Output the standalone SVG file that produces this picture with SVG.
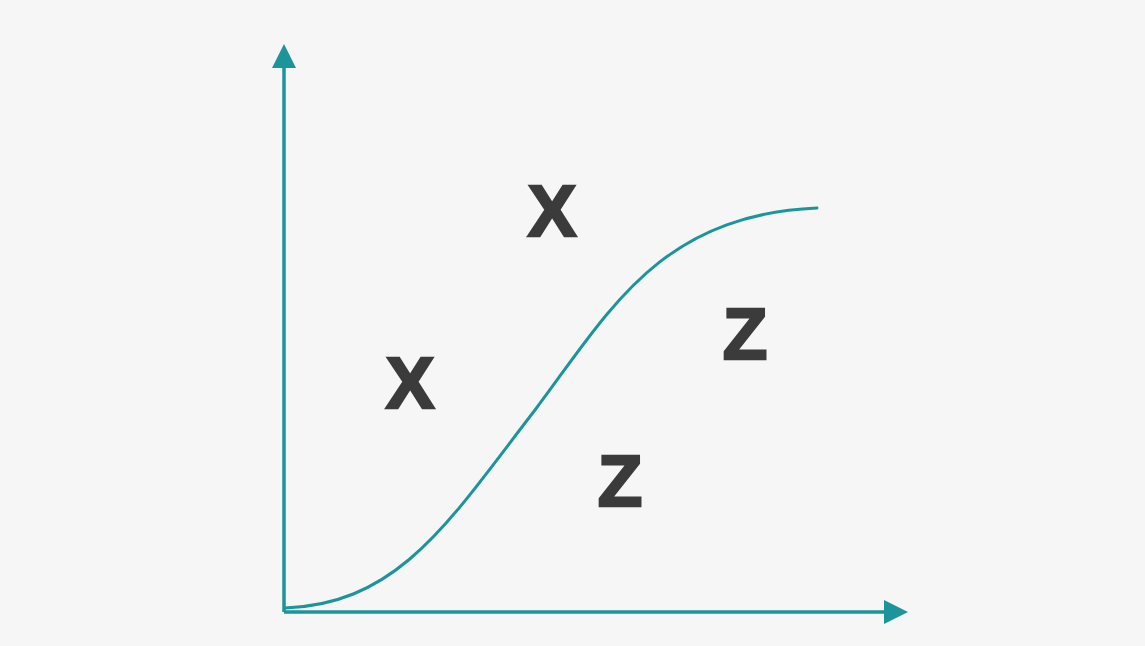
<svg xmlns="http://www.w3.org/2000/svg" width="1145" height="646" viewBox="0 0 1145 646">
<style>
.ax{stroke:#1b9599;stroke-width:3.5;fill:none}
.cv{stroke:#1b9599;stroke-width:3;fill:none;stroke-linecap:round}
.lb{font-family:"Liberation Sans",Arial,sans-serif;font-weight:bold;font-size:73px;fill:#3b3b3b;stroke:#3b3b3b;stroke-width:2.5;stroke-linejoin:miter;text-anchor:middle}
</style>
<defs>
<marker id="ah" viewBox="0 0 24 24" refX="0" refY="12" markerWidth="24" markerHeight="24" markerUnits="userSpaceOnUse" orient="auto">
<path d="M0,0 L24,12 L0,24 Z" fill="#1b9599"/>
</marker>
</defs>
<rect width="1145" height="646" fill="#f6f6f6"/>
<g id="connectors">
<path class="ax" d="M284,612 L284,68" marker-end="url(#ah)"/>
<path class="ax" d="M284,612 L884,612" marker-end="url(#ah)"/>
<path class="cv" d="M285,608 C400,604 450,520 535,410 C610,310 660,215 817,208"/>
</g>
<g id="x1"><text class="lb" x="552" y="236">X</text></g>
<g id="x2"><text class="lb" x="410" y="408">X</text></g>
<g id="z1"><text class="lb" x="620" y="506">Z</text></g>
<g id="z2"><text class="lb" x="745" y="359">Z</text></g>
</svg>
